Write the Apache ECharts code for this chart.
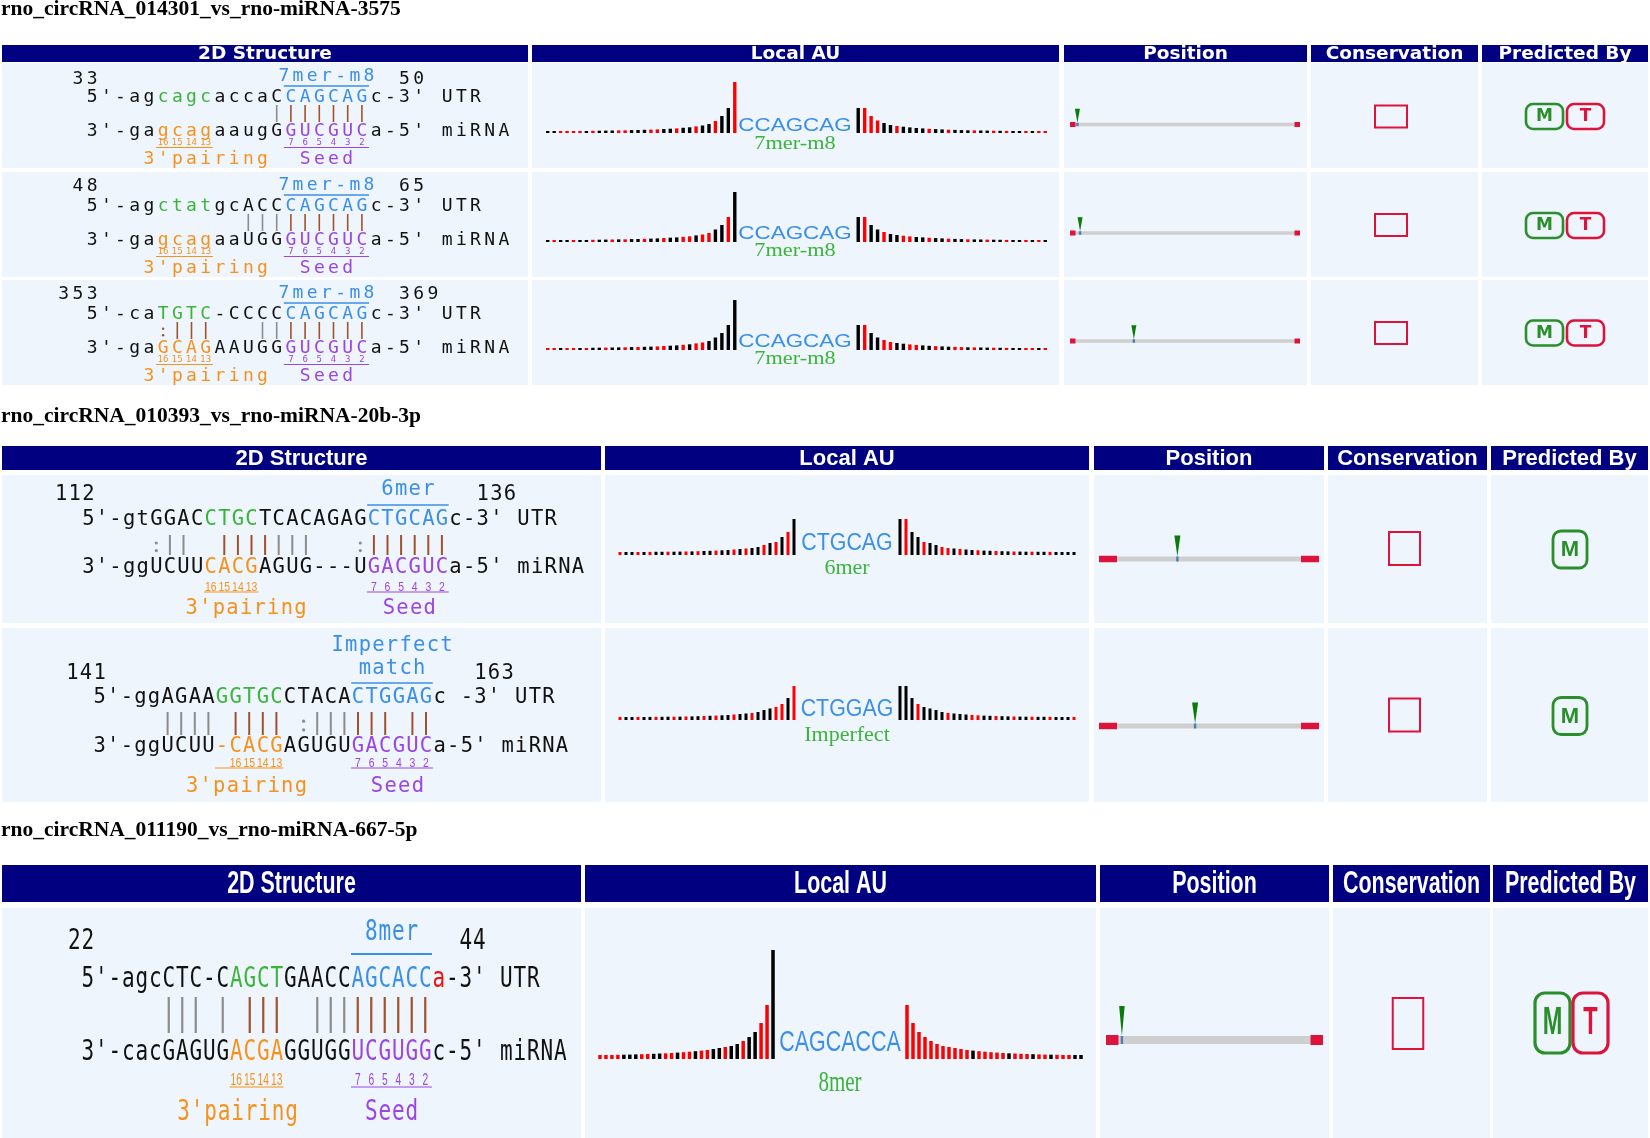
<!DOCTYPE html>
<html><head><meta charset="utf-8">
<script src="https://cdn.jsdelivr.net/npm/echarts@6/dist/echarts.min.js"></script>
<style>html,body{margin:0;padding:0;background:#fff}#c{width:1650px;height:1138px}</style>
</head><body><div id="c"></div><script>
// ---------------- DATA ----------------
const titles = ['rno_circRNA_014301_vs_rno-miRNA-3575','rno_circRNA_010393_vs_rno-miRNA-20b-3p','rno_circRNA_011190_vs_rno-miRNA-667-5p'];
const columnNames = ['2D Structure','Local AU','Position','Conservation','Predicted By'];

const utrSeqs = ["5'-agcagcaccaCCAGCAGc-3'","5'-agctatgcACCCAGCAGc-3'","5'-caTGTC-CCCCCAGCAGc-3'",
  "5'-gtGGACCTGCTCACAGAGCTGCAGc-3'","5'-ggAGAAGGTGCCTACACTGGAGc -3'","5'-agcCTC-CAGCTGAACCAGCACCa-3'"];
const utrColors = ["kkkkkggggkkkkkbbbbbbkkkk","kkkkkggggkkkkkbbbbbbkkkk","kkkkkggggkkkkkbbbbbbkkkk",
  "kkkkkkkkkggggkkkkkkkkbbbbbbkkkk","kkkkkkkkkgggggkkkkkbbbbbbkkkkk","kkkkkkkkkkkggggkkkkkbbbbbbrkkk"];
const mirSeqs = ["3'-gagcagaaugGGUCGUCa-5'","3'-gagcagaaUGGGUCGUCa-5'","3'-gaGCAGAAUGGGUCGUCa-5'",
  "3'-ggUCUUCACGAGUG---UGACGUCa-5'","3'-ggUCUU-CACGAGUGUGACGUCa-5'","3'-cacGAGUGACGAGGUGGUCGUGGc-5'"];
const mirColors = ["kkkkkooookkkkkppppppkkkk","kkkkkooookkkkkppppppkkkk","kkkkkooookkkkkppppppkkkk",
  "kkkkkkkkkooookkkkkkkkppppppkkkk","kkkkkkkkkoooookkkkkppppppkkkk","kkkkkkkkkkkooookkkkkppppppkkkk"];
const pairLines = ["             gbbbbbb    ","           gggbbbbbb    ","     ;bbb   ggbbbbbb    ",
  "     :gg  bbbbggg   :bbbbbb    ","     gggg bbbb :gggbbb bb","      ggg g bbb  gggbbbbbb"];
const siteTypeLabels = [['7mer-m8'],['7mer-m8'],['7mer-m8'],['6mer'],['Imperfect','match'],['8mer']];
const siteStarts = [33,48,353,112,141,22];
const siteEnds = [50,65,369,136,163,44];
const subOrange = ['16','15','14','13'];
const subSeed = ['7','6','5','4','3','2'];
const pairingLabel = "3'pairing", seedLabel = 'Seed';

const siteSeqs = ['CCAGCAG','CCAGCAG','CCAGCAG','CTGCAG','CTGGAG','CAGCACCA'];
const auTypeLabels = ['7mer-m8','7mer-m8','7mer-m8','6mer','Imperfect','8mer'];
const auLeft = [
 [2,2,2,2,2,2,2,2.2,2.3,2.4,2.5,2.6,2.7,2.9,3,3.2,3.4,3.6,4,4.3,4.6,5.2,5.7,6.6,7.5,9,12,17,25,51],
 [2,2,2,2,2,2,2,2.2,2.3,2.4,2.5,2.6,2.7,2.9,3,3.2,3.4,3.6,4,4.3,4.6,5.2,5.7,6.6,7.5,9,12.5,17,25,50],
 [2,2,2,2,2,2,2,2.2,2.3,2.4,2.5,2.6,2.7,2.9,3,3.2,3.4,3.6,4,4.3,4.6,5.2,5.7,6.6,7.5,9,12.5,17,25,50],
 [3,3,3,3,3,3.1,3.2,3.2,3.3,3.3,3.4,3.5,3.6,3.8,4,4.2,4.4,4.7,5,5.5,6,6.5,7,8,10,12,13,18,23,36],
 [3,3,3,3,3,3.1,3.2,3.2,3.3,3.3,3.4,3.5,3.6,3.8,4,4.2,4.4,4.7,5,5.5,6,6.5,7,8,10,11.5,13,16,22,34],
 [4,4,4,4.2,4.3,4.4,4.6,4.8,5,5.2,5.5,5.7,6,6.4,6.8,7.3,7.8,8.4,9,10,11,12,13,15,18,22,27,36,54,109]
];
const auRight = [
 [25,25,17,12.5,10,8,7,6.3,5.6,5,4.6,4.2,3.9,3.6,3.3,3.1,2.9,2.7,2.6,2.5,2.4,2.3,2.2,2.1,2,2,2,2,2,2],
 [25,25,17,12.5,10,8,7,6.3,5.6,5,4.6,4.2,3.9,3.6,3.3,3.1,2.9,2.7,2.6,2.5,2.4,2.3,2.2,2.1,2,2,2,2,2,2],
 [25,25,17,12.5,10,8,7,6.3,5.6,5,4.6,4.2,3.9,3.6,3.3,3.1,2.9,2.7,2.6,2.5,2.4,2.3,2.2,2.1,2,2,2,2,2,2],
 [36,36,23,18,13,12,10,8,7,6.5,6,5.5,5,4.7,4.4,4.2,4,3.8,3.6,3.5,3.4,3.3,3.3,3.2,3.2,3.1,3,3,3,3],
 [34,34,22,16,13,11.5,10,8,7,6.5,6,5.5,5,4.7,4.4,4.2,4,3.8,3.6,3.5,3.4,3.3,3.3,3.2,3.2,3.1,3,3,3,3],
 [54,36,27,22,18,15,13,12,11,10,9,8.4,7.8,7.3,6.8,6.4,6,5.7,5.5,5.2,5,4.8,4.6,4.4,4.3,4.2,4,4,4,4]
];
const auLeftColors = ['kkrrrrkrkkkrrkkkrrkkrkkrkkrkkr','krkkrkkrkkrkrkkrkkrkkrrkrrkkrk','rrkrrkrkkrkkrkrkkrrkkrkrrkkkkk',
  'rkkrkrkkrkkrkrkkrkkrkrkkrkrkrk','rkkrkkrkkrkrkkrkrkkrkkrkkkrrkr','rrrrkkkrrkkrrkrrkrrkkrkkrkkrrk'];
const auRightColors = ['krrrkkrkkkkrkkrkkkrkkrkrkkrkrr','krkkrkkrrkkrkkrkkrkkrkkrkkrkrk','krkkrrkkrrkkrkkrrkrkkrkrkkrrkr',
  'krkkrkkrrkrkkrkkrkkrkkrkkrkkkk','kkkrkkkkrkkkrrkkrkkrkkrkkrkkkr','rrrrrrrrrrrkrrrrrkrrrkrrkrrrkk'];
const circLengths = [1300,1300,1300,348,348,450];
const sitePositions = [42,57,361,124,152,33];
const predictedBy = [['M','T'],['M','T'],['M','T'],['M'],['M'],['M','T']];

// ---------------- LAYOUT / STYLE ----------------
const NAVY='#000080', ROWBG='#eef5fc';
const COL={k:'#111111',g:'#3cb43c',b:'#3b8fe8',o:'#f5921e',p:'#9a46e2',r:'#ee1111'};
const PAIR={g:'#8c8c8c',b:'#a0522d'};
const panelCols=[
 [[2,528],[532,1059],[1064,1307],[1311,1478],[1482,1648]],
 [[2,601],[605,1089],[1094,1324],[1328,1487],[1491,1648]],
 [[2,581],[585,1096],[1100,1329],[1333,1490],[1493,1648]]];
const panelHeader=[[45,62],[446,470],[865,902]];
const panelRows=[[[63,168],[172,277],[280,385]],[[475,623],[628,802]],[[908,1138]]];
const titleY=[9,416,830];
const headerFont=['bold 18.5px "DejaVu Sans"','bold 22px "Liberation Sans"','bold 32px "Liberation Sans"'];
const headerSx=[1,1,0.67];

const P1={x0:85,adv:14.2,font:'18px "DejaVu Sans Mono"',sx:1,num:16,site:[13],ul:23,utr:34,pb:[42,59],mir:68,sub:80,subUl:84.5,lab:96,
  subFont:'9px "DejaVu Sans"',subSx:0.95,plw:1.6,dotR:1.2,ulw:1.4,labCols:[4,15]};
const structGeom=[
 Object.assign({},P1,{T:63}),Object.assign({},P1,{T:172,num:14}),Object.assign({},P1,{T:280,num:14}),
 {T:475,x0:81.5,adv:13.6,font:'20.5px "DejaVu Sans Mono"',sx:1,num:20,site:[15],ul:30,utr:45,pb:[60,80],mir:93,sub:112,subUl:117,lab:134,
  subFont:'13px "Liberation Sans"',subSx:0.8,plw:2,dotR:1.6,ulw:1.6,labCols:[7.6,22.1]},
 {T:628,x0:92.8,adv:13.6,font:'20.5px "DejaVu Sans Mono"',sx:1,num:46,site:[18,41],ul:55,utr:70,pb:[84,107],mir:119,sub:135,subUl:140,lab:159,
  subFont:'13px "Liberation Sans"',subSx:0.8,plw:2,dotR:1.6,ulw:1.6,labCols:[6.8,20.4]},
 {T:908,x0:81,adv:13.5,font:'28px "DejaVu Sans Mono"',sx:0.75,num:34,site:[25],ul:46,utr:72,pb:[89,125],mir:145,sub:172,subUl:179,lab:205,
  subFont:'17px "Liberation Sans"',subSx:0.6,plw:2.2,dotR:2,ulw:2,labCols:[7.1,21]}];
const AU1={lx0:544.5,lx1:738,rx0:855,rx1:1048.5,H:52,bw:3.4,siteFont:'19px "Liberation Sans"',siteSx:1.18,cx:795,labFont:'18px "Liberation Serif"',labSx:1.24};
const AU2={lx0:617,lx1:797,rx0:897,rx1:1077,H:37,bw:3,siteFont:'23px "Liberation Sans"',siteSx:0.93,cx:847,labFont:'22px "Liberation Serif"',labSx:1};
const auGeom=[
 Object.assign({},AU1,{base:133,siteY:126,labY:144}),Object.assign({},AU1,{base:242,siteY:234,labY:251}),Object.assign({},AU1,{base:350,siteY:342,labY:359}),
 Object.assign({},AU2,{base:555,siteY:544,labY:568}),Object.assign({},AU2,{base:720,siteY:710,labY:735}),
 {lx0:597,lx1:776,rx0:904,rx1:1084,H:112,bw:3.5,base:1059,siteY:1043,siteFont:'29px "Liberation Sans"',siteSx:0.74,cx:840,labY:1083,labFont:'30px "Liberation Serif"',labSx:0.7}];
const PG1={x0:1070,x1:1300,th:3.5,cw:5.5,ch:5,mh:14,mw:5};
const PG2={x0:1099,x1:1319,th:5,cw:18,ch:6.5,mh:21,mw:6};
const posGeom=[Object.assign({},PG1,{y:124.5}),Object.assign({},PG1,{y:233}),Object.assign({},PG1,{y:341}),
 Object.assign({},PG2,{y:559}),Object.assign({},PG2,{y:726}),{x0:1106,x1:1323,y:1040,th:8,cw:12.5,ch:10,mh:30,mw:5.5}];
const consGeom=[{cx:1391,cy:116.5,w:32,h:22},{cx:1391,cy:225,w:32,h:22},{cx:1391,cy:333,w:32,h:22},
 {cx:1404.5,cy:548.5,w:31,h:33},{cx:1404.5,cy:715,w:31,h:33},{cx:1408,cy:1023.5,w:30.5,h:51}];
const PR1={x:1526,w:37,h:25,gap:4,font:'bold 17px "DejaVu Sans"',sx:1,r:7,lw:2.6};
const PR2={x:1553,w:34,h:37,gap:4,font:'bold 22px "Liberation Sans"',sx:1,r:8,lw:2.8};
const predGeom=[Object.assign({},PR1,{cy:116.5}),Object.assign({},PR1,{cy:225.5}),Object.assign({},PR1,{cy:333}),
 Object.assign({},PR2,{cy:549.5}),Object.assign({},PR2,{cy:716}),{x:1535,cy:1023,w:35,h:60,gap:3,font:'bold 38px "Liberation Sans"',sx:0.62,r:10,lw:3.2}];
const BADGE={M:'#2a8f2a',T:'#dc143c'};

// ---------------- BUILD ----------------
const graphics=[], grids=[], xAxes=[], yAxes=[], series=[];
function rect(x,y,w,h,fill,z){graphics.push({type:'rect',silent:true,z:z||0,shape:{x:x,y:y,width:w,height:h},style:{fill:fill}});}
function line(x1,y1,x2,y2,stroke,lw){graphics.push({type:'line',silent:true,z:5,shape:{x1:x1,y1:y1,x2:x2,y2:y2},style:{stroke:stroke,lineWidth:lw}});}
function dot(x,y,r,fill){graphics.push({type:'circle',silent:true,z:5,shape:{cx:x,cy:y,r:r},style:{fill:fill}});}
function txt(s,x,y,o){graphics.push({type:'text',silent:true,z:10,x:x,y:y,scaleX:o.sx||1,
  style:{text:s,x:0,y:0,font:o.font,fill:o.color||'#000',align:o.align||'center',textAlign:o.align||'center',verticalAlign:'middle',textVerticalAlign:'middle'}});}
function mono(g,s,cols,col0,y){for(let i=0;i<s.length;i++){const ch=s[i];if(ch===' ')continue;
  const c=cols?(cols.length===1?cols:cols[i]):'k';
  txt(ch,g.x0+(col0+i+0.5)*g.adv,y,{font:g.font,color:COL[c]||COL.k,sx:g.sx});}}

for(let p=0;p<3;p++){
  txt(titles[p],1,titleY[p],{font:'bold 21.5px "Liberation Serif"',color:'#000',align:'left'});
  const [h0,h1]=panelHeader[p];
  panelCols[p].forEach((c,ci)=>{
    rect(c[0],h0,c[1]-c[0],h1-h0,NAVY);
    txt(columnNames[ci],(c[0]+c[1])/2,(h0+h1)/2+0.5,{font:headerFont[p],color:'#ffffff',sx:headerSx[p]});
    panelRows[p].forEach(rw=>rect(c[0],rw[0],c[1]-c[0],rw[1]-rw[0],ROWBG));
  });
}

for(let r=0;r<6;r++){
  const g=structGeom[r], T=g.T;
  const utr=utrSeqs[r], mir=mirSeqs[r], uc=utrColors[r], mc=mirColors[r];
  const ns=String(siteStarts[r]), ne=String(siteEnds[r]);
  mono(g,ns,null,1-ns.length,T+g.num);
  mono(g,ne,null,utr.length-2,T+g.num);
  const bF=uc.indexOf('b'), bL=uc.lastIndexOf('b'), center=(bF+bL+1)/2;
  siteTypeLabels[r].forEach((s,k)=>mono(g,s,'b',center-s.length/2,T+g.site[k]));
  line(g.x0+bF*g.adv,T+g.ul,g.x0+(bL+1)*g.adv,T+g.ul,COL.b,g.ulw);
  mono(g,utr,uc,0,T+g.utr);
  mono(g,'UTR',null,utr.length+1,T+g.utr);
  const pl=pairLines[r];
  for(let i=0;i<pl.length;i++){const c=pl[i];if(c===' ')continue;
    const x=g.x0+(i+0.5)*g.adv,y1=T+g.pb[0],y2=T+g.pb[1];
    if(c==='g'||c==='b')line(x,y1,x,y2,PAIR[c],g.plw);
    else{const cc=c===':'?PAIR.g:PAIR.b;dot(x,y1+(y2-y1)*0.4,g.dotR,cc);dot(x,y1+(y2-y1)*0.78,g.dotR,cc);}}
  mono(g,mir,mc,0,T+g.mir);
  mono(g,'miRNA',null,mir.length+1,T+g.mir);
  const oAll=[],oLet=[],pAll=[];
  for(let i=0;i<mc.length;i++){if(mc[i]==='o'){oAll.push(i);if(mir[i]!=='-')oLet.push(i);} if(mc[i]==='p')pAll.push(i);}
  oLet.forEach((ci,k)=>txt(subOrange[k],g.x0+(ci+0.5)*g.adv,T+g.sub,{font:g.subFont,color:COL.o,sx:g.subSx}));
  pAll.forEach((ci,k)=>txt(subSeed[k],g.x0+(ci+0.5)*g.adv,T+g.sub,{font:g.subFont,color:COL.p,sx:g.subSx}));
  line(g.x0+oAll[0]*g.adv,T+g.subUl,g.x0+(oAll[oAll.length-1]+1)*g.adv,T+g.subUl,COL.o,1);
  line(g.x0+pAll[0]*g.adv,T+g.subUl,g.x0+(pAll[pAll.length-1]+1)*g.adv,T+g.subUl,COL.p,1);
  mono(g,pairingLabel,'o',g.labCols[0],T+g.lab);
  mono(g,seedLabel,'p',g.labCols[1],T+g.lab);

  const a=auGeom[r];
  [[a.lx0,a.lx1,auLeft[r],auLeftColors[r]],[a.rx0,a.rx1,auRight[r],auRightColors[r]]].forEach(([x0,x1,vals,cols])=>{
    const gi=grids.length;
    grids.push({left:x0,top:a.base-a.H,width:x1-x0,height:a.H,containLabel:false});
    xAxes.push({type:'category',gridIndex:gi,show:false,boundaryGap:true,data:vals.map((v,i)=>i)});
    yAxes.push({type:'value',gridIndex:gi,show:false,min:0,max:a.H});
    series.push({type:'bar',xAxisIndex:gi,yAxisIndex:gi,barWidth:a.bw,silent:true,
      data:vals.map((v,i)=>({value:v,itemStyle:{color:cols[i]==='r'?'#ff0000':'#000000'}}))});
  });
  txt(siteSeqs[r],a.cx,a.siteY,{font:a.siteFont,color:'#3b8fe8',sx:a.siteSx});
  txt(auTypeLabels[r],a.cx,a.labY,{font:a.labFont,color:'#3cb43c',sx:a.labSx});

  const q=posGeom[r]; const gi=grids.length;
  grids.push({left:q.x0,top:q.y-30,width:q.x1-q.x0,height:60,containLabel:false});
  xAxes.push({type:'value',gridIndex:gi,show:false,min:0,max:circLengths[r]});
  yAxes.push({type:'value',gridIndex:gi,show:false,min:0,max:1});
  series.push({type:'custom',xAxisIndex:gi,yAxisIndex:gi,silent:true,data:[[0,0.5,circLengths[r]]],
    renderItem:(params,api)=>{const s=api.coord([api.value(0),api.value(1)]),e=api.coord([api.value(2),api.value(1)]);
      return {type:'group',children:[
        {type:'rect',shape:{x:s[0],y:s[1]-q.th/2,width:e[0]-s[0],height:q.th},style:{fill:'#cfcfcf'}},
        {type:'rect',shape:{x:s[0],y:s[1]-q.ch/2,width:q.cw,height:q.ch},style:{fill:'#dc143c'}},
        {type:'rect',shape:{x:e[0]-q.cw,y:e[1]-q.ch/2,width:q.cw,height:q.ch},style:{fill:'#dc143c'}}]};}});
  series.push({type:'custom',xAxisIndex:gi,yAxisIndex:gi,silent:true,z:3,data:[[sitePositions[r],0.5]],
    renderItem:(params,api)=>{const m=api.coord([api.value(0),api.value(1)]);const top=m[1]-q.th/2;
      return {type:'group',children:[
        {type:'rect',shape:{x:m[0]-1.2,y:top,width:2.4,height:q.th},style:{fill:'#4a7fb5'}},
        {type:'polygon',shape:{points:[[m[0]-q.mw/2,top-q.mh],[m[0]+q.mw/2,top-q.mh],[m[0],top]]},style:{fill:'#0a7a0a'}}]};}});

  const cg=consGeom[r];
  graphics.push({type:'rect',silent:true,z:5,shape:{x:cg.cx-cg.w/2,y:cg.cy-cg.h/2,width:cg.w,height:cg.h},style:{fill:'none',stroke:'#dc143c',lineWidth:2}});

  const pg=predGeom[r];
  predictedBy[r].forEach((lab,k)=>{
    const x=pg.x+k*(pg.w+pg.gap);
    graphics.push({type:'rect',silent:true,z:5,shape:{x:x,y:pg.cy-pg.h/2,width:pg.w,height:pg.h,r:pg.r},style:{fill:'none',stroke:BADGE[lab],lineWidth:pg.lw}});
    txt(lab,x+pg.w/2,pg.cy+0.5,{font:pg.font,color:BADGE[lab],sx:pg.sx});
  });
}

const chart=echarts.init(document.getElementById('c'));
chart.setOption({animation:false,grid:grids,xAxis:xAxes,yAxis:yAxes,series:series,graphic:{elements:graphics}});
</script></body></html>
